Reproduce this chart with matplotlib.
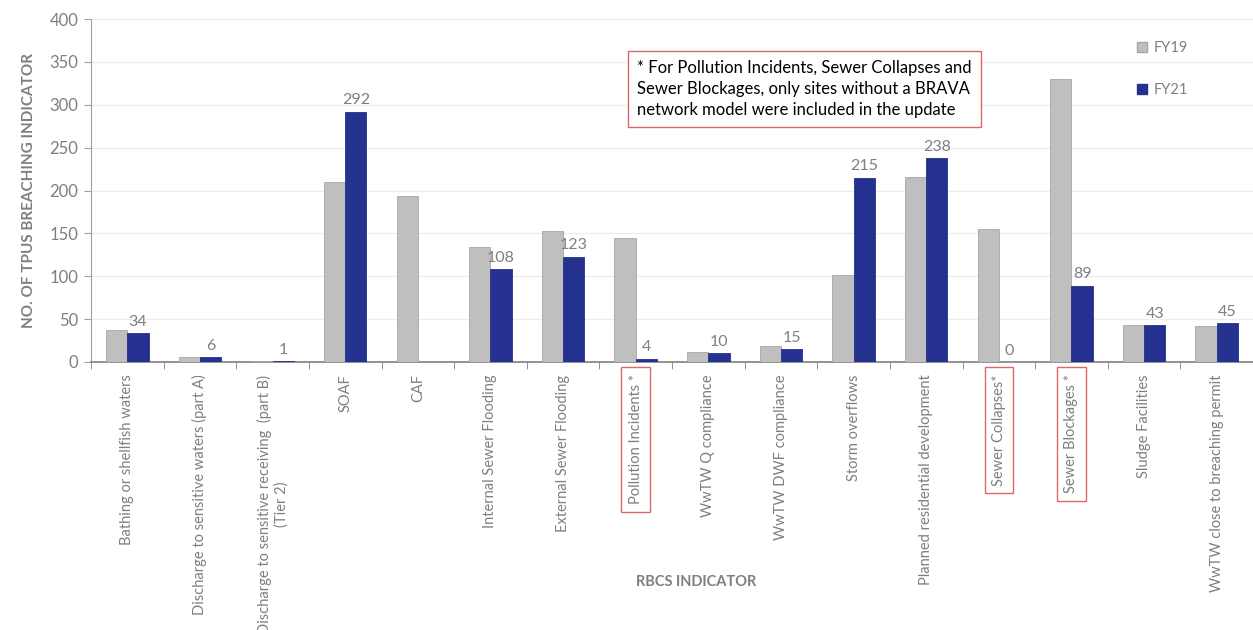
import matplotlib.pyplot as plt
import numpy as np
from matplotlib.patches import Patch

plt.rcParams['font.family'] = ['Lato', 'DejaVu Sans']

categories = ["Bathing or shellfish waters",
              "Discharge to sensitive waters (part A)",
              "Discharge to sensitive receiving  (part B)\n(Tier 2)",
              "SOAF",
              "CAF",
              "Internal Sewer Flooding",
              "External Sewer Flooding",
              "Pollution Incidents *",
              "WwTW Q compliance",
              "WwTW DWF compliance",
              "Storm overflows",
              "Planned residential development",
              "Sewer Collapses*",
              "Sewer Blockages *",
              "Sludge Facilities",
              "WwTW close to breaching permit"]
fy19 = [37, 6, 1, 210, 194, 134, 153, 145, 12, 19, 101, 216, 155, 330, 43, 42]
fy21 = [34, 6, 1, 292, np.nan, 108, 123, 4, 10, 15, 215, 238, 0, 89, 43, 45]
boxed = ["Pollution Incidents *", "Sewer Collapses*", "Sewer Blockages *"]

note = ("* For Pollution Incidents, Sewer Collapses and\n"
        "Sewer Blockages, only sites without a BRAVA\n"
        "network model were included in the update")

grey_txt = '#7f7f7f'
c19 = '#bfbfbf'
c21 = '#24318f'

fig = plt.figure(figsize=(12.53, 6.3), dpi=100)
ax = fig.add_axes([91/1253, 268/630, (1253-91)/1253, 343/630])

x = np.arange(len(categories))
w = 0.293
ax.bar(x - w/2, fy19, w, color=c19, edgecolor='#a6a6a6', linewidth=0.6, label='FY19', zorder=3)
ax.bar(x + w/2, fy21, w, color=c21, edgecolor=c21, linewidth=0.6, label='FY21', zorder=3)

# value labels on FY21 bars
for xi, v in zip(x, fy21):
    if np.isnan(v):
        continue
    ax.text(xi + w/2, v + 5, f"{int(v)}", ha='center', va='bottom',
            fontsize=11.5, color=grey_txt)

ax.set_xlim(-0.5, 15.35)
ax.set_ylim(0, 400)
ax.set_yticks(np.arange(0, 401, 50))
ax.yaxis.grid(True, color='#ececec', linewidth=0.9, zorder=0)
ax.set_axisbelow(True)

for s in ['top', 'right']:
    ax.spines[s].set_visible(False)
ax.spines['left'].set_color('#a0a0a0')
ax.spines['bottom'].set_color('#808080')
ax.spines['bottom'].set_linewidth(1.2)

ax.set_xticks(x)
ax.set_xticklabels(categories, rotation=90, va='top', ha='center',
                   fontsize=10.5, color=grey_txt)
ax.set_xticks(np.arange(-0.5, 16, 1), minor=True)
ax.tick_params(axis='x', which='major', length=0, pad=9)
ax.tick_params(axis='x', which='minor', length=5, color='#808080')
ax.tick_params(axis='y', length=5, color='#a0a0a0', labelcolor=grey_txt,
               labelsize=12, pad=4)

for lab in ax.get_xticklabels():
    if lab.get_text() in boxed:
        lab.set_bbox(dict(boxstyle='square,pad=0.5', fc='white',
                          ec='#e06666', lw=1.0))

ax.set_ylabel('NO. OF TPUS BREACHING INDICATOR', fontsize=11, fontweight='bold',
              color=grey_txt, labelpad=10)
fig.text(696/1253, 1 - 582/630, 'RBCS INDICATOR', ha='center', va='center',
         fontsize=10.5, fontweight='bold', color=grey_txt)

fig.text(637/1253, 1 - 89/630, note, ha='left', va='center', fontsize=12,
         color='black', linespacing=1.4,
         bbox=dict(boxstyle='square,pad=0.55', fc='white', ec='#e06666', lw=1.0))

handles = [Patch(facecolor=c19, edgecolor='#a6a6a6', label='FY19'),
           Patch(facecolor=c21, edgecolor=c21, label='FY21')]
leg = fig.legend(handles=handles, loc='upper left',
                 bbox_to_anchor=(1124/1253, 1 - 28/630), frameon=False,
                 fontsize=10.5, labelspacing=1.9, handlelength=0.7,
                 handleheight=0.7, handletextpad=0.4)
for t in leg.get_texts():
    t.set_color(grey_txt)

fig.savefig('out.png', dpi=100)
